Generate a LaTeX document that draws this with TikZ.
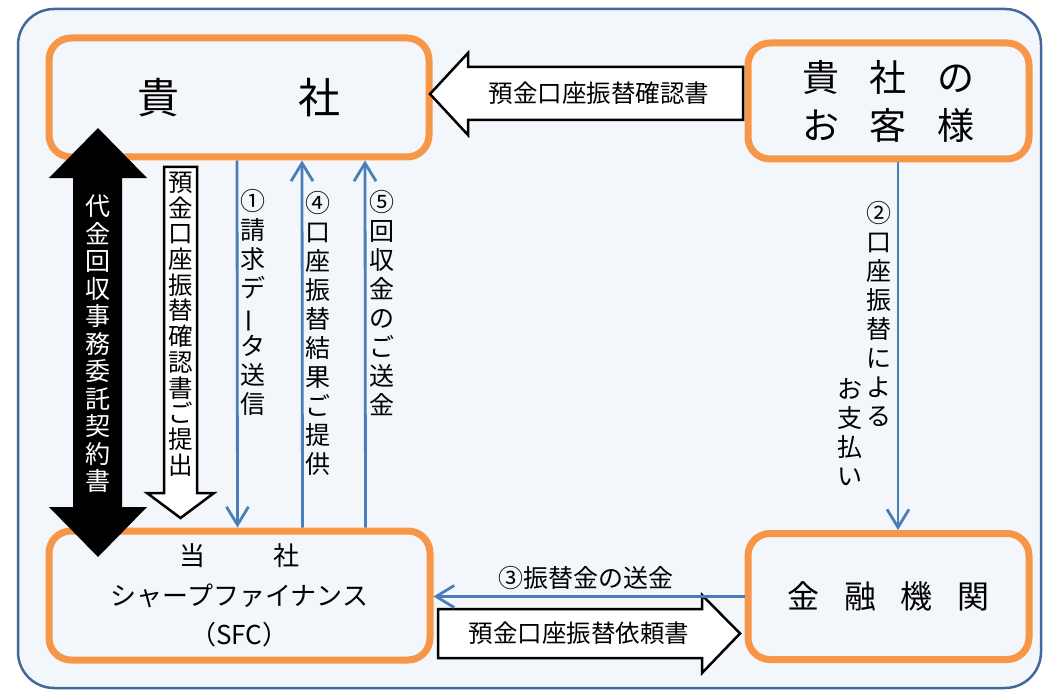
\documentclass[tikz,border=0pt]{standalone}
\usepackage{fontspec}
\setmainfont{Noto Sans CJK JP}
\usetikzlibrary{arrows.meta}

\definecolor{frameblue}{RGB}{65,105,155}
\definecolor{panel}{RGB}{243,246,250}
\definecolor{orgline}{RGB}{247,150,70}
\definecolor{flowblue}{RGB}{74,126,187}

\tikzset{
  orgbox/.style={draw=orgline, line width=7pt, rounded corners=22pt, align=center},
  bigarrow/.style={draw=black, line width=2.5pt, fill=white, line join=miter},
  vlabel/.style={align=center, inner sep=0pt, font=\fontsize{25}{29}\selectfont},
  flow/.style={draw=flowblue, line width=2.8pt, -{Straight Barb[length=18pt,width=22pt]}}
}
\newcommand{\vbar}{\rotatebox[origin=c]{90}{ー}}

\begin{document}
\begin{tikzpicture}[x=1pt,y=-1pt]
\useasboundingbox (0,0) rectangle (1047,690);
\draw[frameblue, line width=2.5pt, fill=panel, rounded corners=36pt] (18,9) rectangle (1041,688);

\begin{scope}[every node/.style={orgbox}]
    \node[minimum width=380pt, minimum height=119pt, font=\fontsize{42}{48}\selectfont] (kisha) at (239,97.5) {\raisebox{-6pt}{貴\hspace{120pt}社}};
    \node[minimum width=281pt, minimum height=116pt, font=\fontsize{37}{48}\selectfont] (okyaku) at (888.5,101) {\raisebox{-4pt}{貴\hspace{31pt}社\hspace{31pt}の}\\\raisebox{-4pt}{お\hspace{31pt}客\hspace{31pt}様}};
    \node[minimum width=381pt, minimum height=129pt, font=\fontsize{26}{39.5}\selectfont] (tosha) at (239.5,595.5) {当\hspace{68pt}社\\シャープファイナンス\\（SFC）};
    \node[minimum width=281pt, minimum height=126pt, font=\fontsize{32}{38}\selectfont] (kinyu) at (888.5,596.5) {金\hspace{25pt}融\hspace{25pt}機\hspace{25pt}関};
\end{scope}

% document arrows
\draw[bigarrow] (743,67) -- (468,67) -- (468,53) -- (430,94) -- (468,135) -- (468,120) -- (743,120) -- cycle;
\draw[bigarrow] (438,609) -- (702,609) -- (702,595) -- (740,633.5) -- (702,673) -- (702,658) -- (438,658) -- cycle;
\draw[bigarrow] (164,167) -- (197,167) -- (197,493) -- (214,493) -- (180.5,518) -- (147,493) -- (164,493) -- cycle;
\fill[black] (98,128) -- (147,178) -- (122,178) -- (122,507) -- (147,507) -- (98,557) -- (49,507) -- (73,507) -- (73,178) -- (49,178) -- cycle;

\begin{scope}[every node/.style={inner sep=0pt, font=\fontsize{24.5}{29}\selectfont}]
    \node (kakunin) at (599,93) {預金口座振替確認書};
    \node (irai) at (579,633) {預金口座振替依頼書};
    \node (soukin) at (586,578) {\fontsize{25}{29}\selectfont ③振替金の送金};
\end{scope}

\begin{scope}[every node/.style={vlabel}]
    \node[text=white, font=\fontsize{25}{27.5}\selectfont] (keiyaku) at (98,344) {代\\金\\回\\収\\事\\務\\委\\託\\契\\約\\書};
    \node[font=\fontsize{24.5}{25.7}\selectfont] (teishutsu) at (180.5,324) {預\\金\\口\\座\\振\\替\\確\\認\\書\\ご\\提\\出};
    \node (lbl1) at (253,302) {①\\請\\求\\デ\\\vbar\\タ\\送\\信};
    \node (lbl4) at (318,333.5) {④\\口\\座\\振\\替\\結\\果\\ご\\提\\供};
    \node (lbl5) at (382,303.5) {⑤\\回\\収\\金\\の\\ご\\送\\金};
    \node (lbl2a) at (879,313.5) {②\\口\\座\\振\\替\\に\\よ\\る};
    \node (lbl2b) at (850,432.5) {お\\支\\払\\い};
\end{scope}

\begin{scope}[style={flow}]
    \path ([xshift=-2pt]kisha.south) edge ([xshift=-2pt]tosha.north);
    \path ([xshift=63pt]tosha.north) edge ([xshift=63pt]kisha.south);
    \path ([xshift=126pt]tosha.north) edge ([xshift=126pt]kisha.south);
    \path ([xshift=9.5pt]okyaku.south) edge ([xshift=9.5pt]kinyu.north);
    \path (kinyu.west) edge (kinyu.west -| tosha.east);
\end{scope}

\end{tikzpicture}
\end{document}
